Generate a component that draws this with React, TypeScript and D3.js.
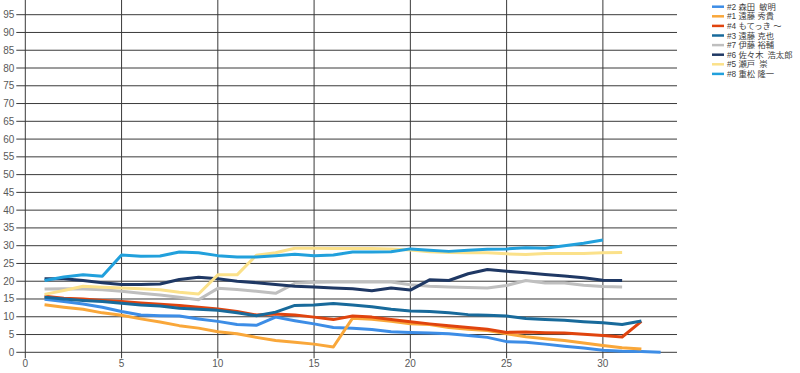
import React, { useEffect, useRef } from 'react';
import * as d3 from 'd3';

// Round numbers along the x axis
const rounds = d3.range(1, 34);

// Series names, in legend / drawing order
const names = [
  '#2 森田\u2002敏明',
  '#1 遠藤 秀貴',
  '#4 もてっき ～',
  '#3 遠藤 克也',
  '#7 伊藤 裕輔',
  '#6 佐々木\u2002浩太郎',
  '#5 瀬戸\u2002崇',
  '#8 重松 隆一',
];

const colors = ['#3d8de6', '#f9a73a', '#e0440e', '#186a9b', '#bfbfbf', '#1f3864', '#fbe18a', '#21a0dc'];

// Values per round (series may stop early)
const morita = [14.9, 14.3, 13.6, 12.7, 11.5, 10.5, 10.3, 10.2, 9.4, 8.7, 7.8, 7.6, 9.9, 8.9, 8.0, 7.0, 6.8, 6.4, 5.8, 5.6, 5.4, 5.2, 4.7, 4.2, 3.0, 2.8, 2.3, 1.7, 1.2, 0.6, 0.3, 0.2, 0];
const endoH = [13.4, 12.7, 12.1, 11.1, 10.4, 9.4, 8.5, 7.5, 6.8, 5.8, 5.2, 4.2, 3.3, 2.8, 2.3, 1.5, 9.6, 9.3, 8.7, 8.0, 7.8, 7.0, 6.5, 6.1, 5.2, 4.4, 3.8, 3.3, 2.6, 1.9, 1.3, 0.9];
const motekki = [15.8, 15.2, 15.0, 14.6, 14.3, 13.9, 13.5, 13.2, 12.7, 12.2, 11.5, 10.5, 10.8, 10.5, 9.9, 9.2, 10.2, 9.9, 9.2, 8.6, 8.0, 7.5, 7.0, 6.5, 5.6, 5.7, 5.5, 5.4, 5.1, 4.7, 4.3, 8.7];
const endoK = [15.5, 15.0, 14.6, 14.3, 13.8, 13.3, 13.0, 12.4, 12.1, 11.8, 11.1, 10.3, 11.3, 13.2, 13.3, 13.7, 13.3, 12.8, 12.1, 11.6, 11.5, 11.1, 10.6, 10.4, 10.2, 9.5, 9.2, 9.0, 8.6, 8.3, 7.8, 8.8];
const ito = [17.8, 17.9, 17.8, 17.6, 17.2, 16.6, 16.1, 15.5, 14.8, 18.0, 17.7, 17.2, 16.6, 19.4, 19.7, 19.8, 19.8, 19.8, 19.8, 19.0, 18.6, 18.4, 18.2, 18.1, 18.8, 20.2, 19.5, 19.5, 18.9, 18.5, 18.4];
const sasaki = [20.7, 20.7, 20.2, 19.6, 19.1, 19.1, 19.2, 20.5, 21.1, 20.7, 20.0, 19.6, 19.1, 18.6, 18.4, 18.1, 17.9, 17.3, 18.1, 17.5, 20.4, 20.2, 22.1, 23.3, 22.8, 22.4, 21.9, 21.5, 21.0, 20.3, 20.2];
const seto = [16.3, 17.4, 18.6, 18.3, 18.1, 17.9, 17.6, 16.9, 16.4, 21.8, 21.8, 27.3, 28.0, 29.3, 29.3, 29.2, 29.2, 29.2, 29.1, 28.8, 28.3, 28.1, 28.0, 28.0, 27.7, 27.5, 27.8, 27.8, 27.8, 28.0, 28.1];
const shigematsu = [20.2, 21.2, 21.8, 21.4, 27.4, 27.0, 27.1, 28.2, 28.0, 27.2, 26.8, 26.8, 27.2, 27.6, 27.2, 27.4, 28.2, 28.2, 28.3, 29.1, 28.7, 28.4, 28.7, 29.0, 29.1, 29.4, 29.3, 30.0, 30.7, 31.6];

const seriesValues = [morita, endoH, motekki, endoK, ito, sasaki, seto, shigematsu];

const xTicks = [0, 5, 10, 15, 20, 25, 30];
const yTicks = d3.range(0, 100, 5);

const App = () => {
  const svgRef = useRef<SVGSVGElement>(null);

  useEffect(() => {
    const width = 800;
    const height = 373;
    const left = 25.3;
    const right = 677;
    const bottom = 352.3;
    const top = 14.7;

    const svg = d3.select(svgRef.current);
    svg.selectAll('*').remove();
    svg.attr('width', width).attr('height', height);

    const x = d3.scaleLinear().domain([0, 33.85]).range([left, right]);
    const y = d3.scaleLinear().domain([0, 95]).range([bottom, top]);

    const font = '"Liberation Sans", Arial, sans-serif';

    // horizontal grid lines, extended to the left as ticks
    svg.append('g')
      .selectAll('line')
      .data(yTicks)
      .enter()
      .append('line')
      .attr('x1', left - 9)
      .attr('x2', right)
      .attr('y1', d => y(d))
      .attr('y2', d => y(d))
      .attr('stroke', '#3a3a3a')
      .attr('stroke-width', 1);

    // vertical grid lines, extended below as ticks
    svg.append('g')
      .selectAll('line')
      .data(xTicks)
      .enter()
      .append('line')
      .attr('x1', d => x(d))
      .attr('x2', d => x(d))
      .attr('y1', 0)
      .attr('y2', bottom + 6)
      .attr('stroke', '#3a3a3a')
      .attr('stroke-width', 1);

    // y labels
    svg.append('g')
      .selectAll('text')
      .data(yTicks)
      .enter()
      .append('text')
      .attr('x', left - 11)
      .attr('y', d => y(d) + 3.5)
      .attr('text-anchor', 'end')
      .attr('font-family', font)
      .attr('font-size', '10px')
      .attr('fill', '#595959')
      .text(d => d);

    // x labels
    svg.append('g')
      .selectAll('text')
      .data(xTicks)
      .enter()
      .append('text')
      .attr('x', d => x(d))
      .attr('y', bottom + 15)
      .attr('text-anchor', 'middle')
      .attr('font-family', font)
      .attr('font-size', '10px')
      .attr('fill', '#595959')
      .text(d => d);

    // series lines
    const line = d3.line<number>()
      .x((_, i) => x(rounds[i]))
      .y(d => y(d));

    svg.append('g')
      .selectAll('path')
      .data(seriesValues)
      .enter()
      .append('path')
      .attr('d', d => line(d))
      .attr('fill', 'none')
      .attr('stroke', (_, i) => colors[i])
      .attr('stroke-width', 3)
      .attr('stroke-linejoin', 'round');

    // legend
    const legend = svg.append('g')
      .selectAll('g')
      .data(names)
      .enter()
      .append('g')
      .attr('transform', (_, i) => `translate(712,${6.7 + i * 9.6})`);

    legend.append('line')
      .attr('x1', 0)
      .attr('x2', 12)
      .attr('stroke', (_, i) => colors[i])
      .attr('stroke-width', 2.5);

    legend.append('text')
      .attr('x', 15)
      .attr('y', 3)
      .attr('font-family', '"Liberation Sans", "Noto Sans CJK JP", sans-serif')
      .attr('font-size', '8.3px')
      .attr('fill', '#404040')
      .text(d => d);
  }, []);

  return <svg ref={svgRef} style={{ position: 'absolute', left: 0, top: 0 }}></svg>;
};

export default App;
